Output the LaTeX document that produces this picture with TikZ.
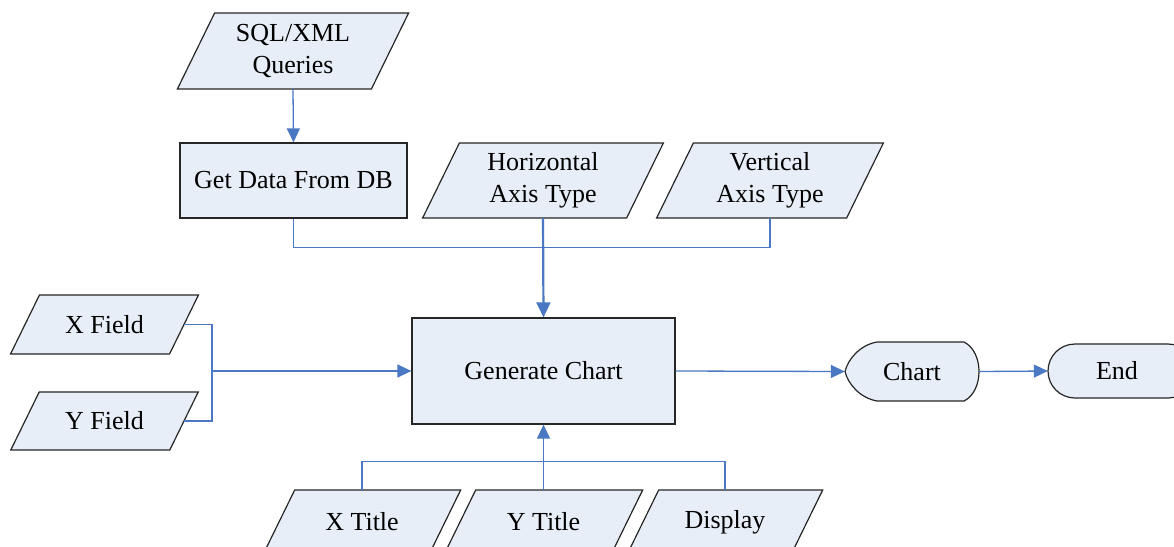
\documentclass[tikz,border=0pt]{standalone}
\usepackage{fontspec}
\setmainfont{Liberation Serif}
\usetikzlibrary{arrows.meta}

\definecolor{boxfill}{HTML}{E8EEF7}
\definecolor{boxedge}{HTML}{262626}
\definecolor{flowblue}{HTML}{4A78C2}

\tikzset{
  boxline/.style={draw=boxedge, fill=boxfill, line width=1.2pt, line join=miter},
  labeltext/.style={inner sep=0pt, align=center, font=\fontsize{26}{32}\selectfont},
  procbox/.style={labeltext, boxline, rectangle},
  link/.style={draw=flowblue, line width=1.3pt},
  flowtip/.style={-{Triangle[length=14pt,width=13pt]}},
  linkarrow/.style={link, flowtip},
  mainarrow/.style={draw=flowblue, line width=2.2pt, -{Triangle[length=15pt,width=14pt]}},
}

% data (input/output) symbol: a parallelogram leaning right, with a named node inside
\newcommand\ionode[6]{%
  \pgfmathsetmacro\halfslant{0.245*#5}%
  \filldraw[boxline] ({#2-#4/2-\halfslant},{#3+#5/2}) -- ({#2+#4/2-\halfslant},{#3+#5/2})
     -- ({#2+#4/2+\halfslant},{#3-#5/2}) -- ({#2-#4/2+\halfslant},{#3-#5/2}) -- cycle;
  \node[labeltext, minimum width=#4pt, minimum height=#5pt] (#1) at (#2,#3) {#6};
}

\begin{document}
\begin{tikzpicture}[x=1pt, y=-1pt]
\useasboundingbox (0,0) rectangle (1174,546);
\clip (0,0) rectangle (1174,546);

% inputs
\ionode{sql}{293}{51}{194}{76}{SQL/XML\\Queries}
\ionode{horiz}{543}{180.5}{204}{75}{Horizontal\\Axis Type}
\ionode{vert}{770}{180.5}{190}{75}{Vertical\\Axis Type}
\ionode{xf}{104.5}{324.5}{159}{59}{X Field}
\ionode{yf}{104.5}{421}{159}{58}{Y Field}
\ionode{xt}{362}{522}{166}{64}{X Title}
\ionode{yt}{543.5}{522}{167}{64}{Y Title}
\ionode{disp}{725}{522}{164}{64}{Display}

% processes
\node[procbox, minimum width=227pt, minimum height=75pt] (getdata) at (293.5,180.5) {Get Data From DB};
\node[procbox, minimum width=263pt, minimum height=106pt] (gen) at (543.5,371) {Generate Chart};

% display symbol
\filldraw[boxline] (877,342) -- (964,342)
  .. controls (984,352) and (984,391) .. (964,401) -- (877,401)
  .. controls (860,398) and (848,384) .. (845,371.5)
  .. controls (848,359) and (860,345) .. (877,342) -- cycle;
\node[labeltext, minimum width=134pt, minimum height=59pt] (chart) at (912,371.5) {Chart};

% terminator
\filldraw[boxline, rounded corners=27pt] (1048,344) rectangle (1195,398);
\node[labeltext, minimum width=138pt, minimum height=54pt] (end) at (1117,371) {End};

% connectors
\draw[linkarrow] (sql.south) -- (getdata.north);
\draw[link] (getdata.south) -- ++(0,29) -| (vert.south);
\draw[mainarrow] (horiz.south) -- (gen.north);

\coordinate (fieldjoin) at (212,371);
\draw[link] (xf.east) -| (fieldjoin) |- (yf.east);
\draw[linkarrow] (fieldjoin) -- (gen.west);

\draw[link] (xt.north) -- ++(0,-28) -| (disp.north);
\draw[linkarrow] (yt.north) -- (gen.south);

\draw[linkarrow] (gen.east) -- (chart.west);
\draw[linkarrow] (chart.east) -- (end.west);
\end{tikzpicture}
\end{document}
